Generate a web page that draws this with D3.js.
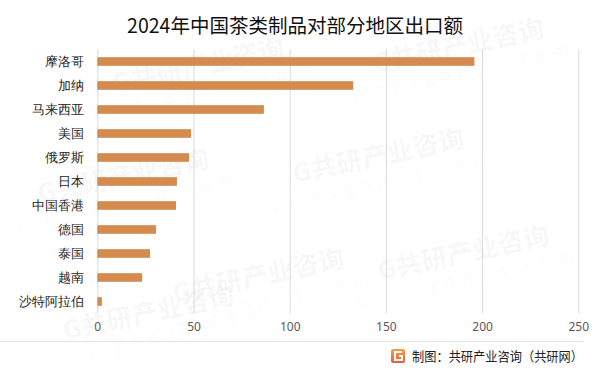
<!DOCTYPE html>
<html>
<head>
<meta charset="utf-8">
<script src="https://cdn.jsdelivr.net/npm/d3@7"></script>
<style>
  body { margin: 0; background: #fff; }
  svg { display: block; font-family: "Noto Sans CJK SC", "Noto Sans", sans-serif; }
</style>
</head>
<body>
<svg id="chart" width="600" height="373"></svg>
<script>
// export values
const regions = ['摩洛哥', '加纳', '马来西亚', '美国', '俄罗斯', '日本', '中国香港', '德国', '泰国', '越南', '沙特阿拉伯'];
const values = [196, 133, 86.6, 48.7, 47.7, 41.4, 40.9, 30.5, 27.4, 23.3, 2.4];
const xTicks = [0, 50, 100, 150, 200, 250];
const titleText = '2024年中国茶类制品对部分地区出口额';
const sourceText = '制图：共研产业咨询（共研网）';

const svg = d3.select('#chart'),
      margin = { top: 49.5, right: 21.7, bottom: 59.5, left: 97.3 },
      width = +svg.attr('width') - margin.left - margin.right,
      height = +svg.attr('height') - margin.top - margin.bottom;

// faint watermarks in the background
const marks = [[200, 75], [460, 55], [125, 185], [380, 165], [260, 285], [465, 262], [150, 322]];
const wm = svg.append('g').attr('fill', '#000').attr('fill-opacity', 0.03);
marks.forEach((p) => {
  const g = wm.append('g')
      .attr('transform', 'translate(' + p[0] + ',' + p[1] + ') rotate(-12)');
  g.append('text')
      .attr('font-size', 26)
      .attr('font-weight', 900)
      .attr('text-anchor', 'middle')
      .text('G共研产业咨询');
  g.append('text')
      .attr('y', 22)
      .attr('font-size', 16)
      .attr('letter-spacing', 8)
      .attr('text-anchor', 'middle')
      .text('www.gonyn.com');
});

const g = svg.append('g')
    .attr('transform', 'translate(' + margin.left + ',' + margin.top + ')');

const x = d3.scaleLinear()
    .domain([0, 250])
    .range([0, width]);

const y = d3.scaleBand()
    .domain(regions)
    .range([0, height])
    .paddingInner(0.64)
    .paddingOuter(0.32);

// vertical gridlines
g.append('g')
    .call(d3.axisBottom(x).tickValues(xTicks).tickSize(height).tickFormat(''))
    .call((s) => s.select('.domain').remove())
    .selectAll('line')
    .attr('stroke', '#d9d9d9')
    .attr('stroke-width', 1);

// x tick labels
g.append('g')
    .attr('transform', 'translate(0,' + height + ')')
    .call(d3.axisBottom(x).tickValues(xTicks).tickSize(0).tickPadding(9))
    .call((s) => s.select('.domain').remove())
    .selectAll('text')
    .attr('fill', '#595959')
    .attr('font-size', 12)
    .attr('font-family', '"Noto Sans", sans-serif');

// category labels
g.append('g')
    .call(d3.axisLeft(y).tickSize(0).tickPadding(13))
    .call((s) => s.select('.domain').remove())
    .selectAll('text')
    .attr('fill', '#262626')
    .attr('font-size', 13);

// bars
g.selectAll('.bar')
  .data(values)
  .enter().append('rect')
    .attr('class', 'bar')
    .attr('x', x(0))
    .attr('y', (d, i) => y(regions[i]))
    .attr('width', (d) => x(d) - x(0))
    .attr('height', y.bandwidth())
    .attr('fill', '#d48b4f');

// title
svg.append('text')
    .attr('x', 295)
    .attr('y', 33)
    .attr('text-anchor', 'middle')
    .attr('font-size', 19.5)
    .attr('fill', '#111')
    .text(titleText);

// footer
svg.append('line')
    .attr('x1', 0).attr('x2', 583)
    .attr('y1', 341.5).attr('y2', 341.5)
    .attr('stroke', '#e3e3e3');

const logo = svg.append('g').attr('transform', 'translate(391,349)');
const grad = svg.append('defs').append('linearGradient')
    .attr('id', 'lg').attr('x1', 0).attr('y1', 0).attr('x2', 0).attr('y2', 1);
grad.append('stop').attr('offset', '0%').attr('stop-color', '#f5a04a');
grad.append('stop').attr('offset', '100%').attr('stop-color', '#ea5b3a');
logo.append('rect')
    .attr('width', 14).attr('height', 14).attr('rx', 2)
    .attr('fill', 'url(#lg)');
logo.append('path')
    .attr('d', 'M11 3 H4 V11 H11 V7 H8')
    .attr('fill', 'none')
    .attr('stroke', '#fff')
    .attr('stroke-width', 2);

svg.append('text')
    .attr('x', 412)
    .attr('y', 360.5)
    .attr('font-size', 13)
    .attr('fill', '#222')
    .attr('textLength', 171)
    .attr('lengthAdjust', 'spacingAndGlyphs')
    .text(sourceText);
</script>
</body>
</html>
